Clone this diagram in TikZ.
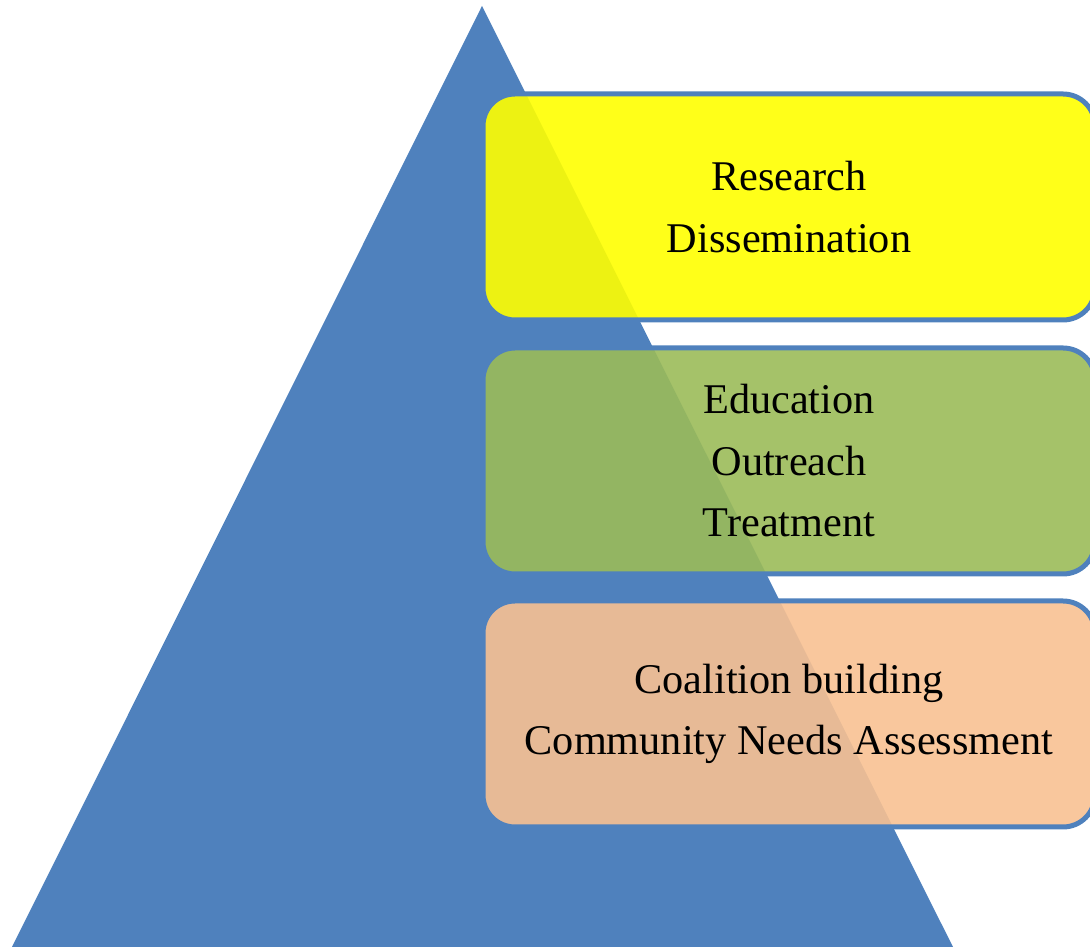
\documentclass[tikz,border=0pt]{standalone}
\usepackage{fontspec}
\setmainfont{Liberation Serif}
\definecolor{triblue}{HTML}{4F81BD}
\definecolor{boxyellow}{HTML}{FFFF00}
\definecolor{boxgreen}{HTML}{9BBB59}
\definecolor{boxtan}{HTML}{F8C192}
\begin{document}
\begin{tikzpicture}[x=1pt,y=1pt,
  tier/.style={draw=triblue, line width=5pt, rounded corners=32pt,
    minimum width=612pt, minimum height=226pt, fill opacity=0.9, text opacity=1,
    align=center, inner sep=0pt,
    font=\fontsize{42.3}{61.5}\selectfont}]
\useasboundingbox (0,0) rectangle (1090,947);
\clip (0,0) rectangle (1090,947);
\fill[triblue] (12,0) -- (482,941) -- (953,0) -- cycle;
\node[tier, fill=boxyellow] (research) at (789,740) {Research\\Dissemination};
\node[tier, fill=boxgreen] (education) at (789,486) {Education\\Outreach\\Treatment};
\node[tier, fill=boxtan] (coalition) at (789,233) {Coalition building\\Community Needs Assessment};
\end{tikzpicture}
\end{document}
